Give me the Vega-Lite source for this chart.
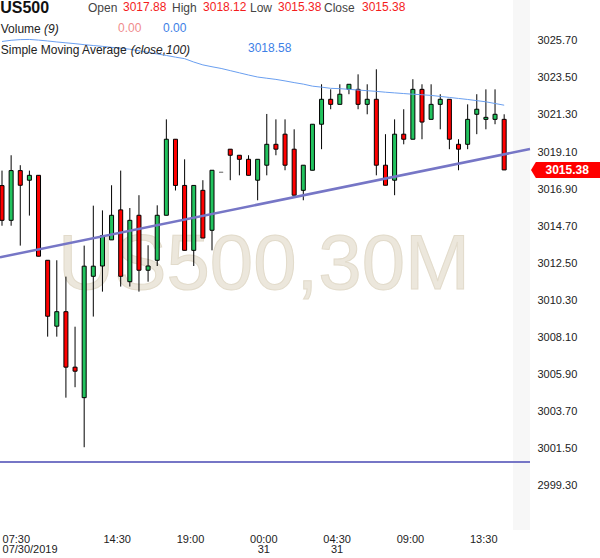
{
  "$schema": "https://vega.github.io/schema/vega-lite/v6.json",
  "width": 530,
  "height": 530,
  "autosize": {"type": "none"},
  "padding": {"left": 0, "top": 0, "right": 70, "bottom": 28},
  "background": "white",
  "config": {"view": {"stroke": null}, "font": "Liberation Sans"},
  "datasets": {
    "candles": [
      {"i":0,"o":3017.11,"h":3018.00,"l":3014.73,"c":3015.05,"sma":3025.66},
      {"i":1,"o":3015.05,"h":3018.91,"l":3014.73,"c":3018.00,"sma":3025.73},
      {"i":2,"o":3018.00,"h":3018.32,"l":3013.55,"c":3017.13,"sma":3025.77},
      {"i":3,"o":3017.43,"h":3018.00,"l":3015.33,"c":3017.72,"sma":3025.78},
      {"i":4,"o":3017.72,"h":3017.72,"l":3012.92,"c":3012.92,"sma":3025.74},
      {"i":5,"o":3012.68,"h":3012.68,"l":3008.15,"c":3009.36,"sma":3025.69},
      {"i":6,"o":3008.77,"h":3012.68,"l":3008.15,"c":3009.63,"sma":3025.63},
      {"i":7,"o":3009.63,"h":3011.71,"l":3004.53,"c":3006.34,"sma":3025.58},
      {"i":8,"o":3006.34,"h":3008.74,"l":3005.15,"c":3006.10,"sma":3025.53},
      {"i":9,"o":3004.53,"h":3013.55,"l":3001.59,"c":3012.33,"sma":3025.47},
      {"i":10,"o":3011.73,"h":3015.92,"l":3009.34,"c":3012.33,"sma":3025.42},
      {"i":11,"o":3012.34,"h":3015.64,"l":3010.82,"c":3014.14,"sma":3025.37},
      {"i":12,"o":3013.89,"h":3017.13,"l":3013.89,"c":3015.35,"sma":3025.31},
      {"i":13,"o":3015.67,"h":3018.00,"l":3011.12,"c":3011.73,"sma":3025.26},
      {"i":14,"o":3011.41,"h":3015.78,"l":3011.12,"c":3015.05,"sma":3025.20},
      {"i":15,"o":3015.35,"h":3016.54,"l":3010.82,"c":3012.09,"sma":3025.11},
      {"i":16,"o":3012.09,"h":3013.57,"l":3011.41,"c":3012.34,"sma":3025.01},
      {"i":17,"o":3012.68,"h":3015.94,"l":3012.34,"c":3015.35,"sma":3024.92},
      {"i":18,"o":3015.35,"h":3021.04,"l":3015.35,"c":3019.86,"sma":3024.83},
      {"i":19,"o":3019.86,"h":3019.86,"l":3016.82,"c":3017.12,"sma":3024.73},
      {"i":20,"o":3017.12,"h":3018.67,"l":3013.27,"c":3013.27,"sma":3024.64},
      {"i":21,"o":3013.27,"h":3017.12,"l":3012.34,"c":3017.12,"sma":3024.44},
      {"i":22,"o":3016.83,"h":3017.43,"l":3014.00,"c":3014.00,"sma":3024.27},
      {"i":23,"o":3014.46,"h":3018.02,"l":3013.27,"c":3018.02,"sma":3024.16},
      {"i":24,"o":3017.90,"h":3017.90,"l":3017.90,"c":3017.90,"sma":3024.06},
      {"i":25,"o":3019.27,"h":3019.27,"l":3017.43,"c":3018.91,"sma":3023.93},
      {"i":26,"o":3018.91,"h":3018.91,"l":3017.72,"c":3018.67,"sma":3023.80},
      {"i":27,"o":3018.67,"h":3018.91,"l":3017.72,"c":3017.72,"sma":3023.67},
      {"i":28,"o":3017.43,"h":3018.67,"l":3016.24,"c":3018.67,"sma":3023.55},
      {"i":29,"o":3018.32,"h":3021.36,"l":3017.72,"c":3019.56,"sma":3023.48},
      {"i":30,"o":3019.56,"h":3021.04,"l":3018.91,"c":3019.27,"sma":3023.41},
      {"i":31,"o":3020.16,"h":3021.04,"l":3018.02,"c":3018.32,"sma":3023.32},
      {"i":32,"o":3019.27,"h":3020.45,"l":3016.54,"c":3016.54,"sma":3023.22},
      {"i":33,"o":3016.83,"h":3018.32,"l":3016.24,"c":3018.32,"sma":3023.13},
      {"i":34,"o":3018.02,"h":3020.75,"l":3018.02,"c":3020.75,"sma":3023.01},
      {"i":35,"o":3020.75,"h":3023.12,"l":3019.27,"c":3022.23,"sma":3022.95},
      {"i":36,"o":3022.23,"h":3022.82,"l":3021.64,"c":3021.93,"sma":3022.88},
      {"i":37,"o":3021.93,"h":3023.12,"l":3021.93,"c":3022.53,"sma":3022.86},
      {"i":38,"o":3022.82,"h":3023.12,"l":3022.53,"c":3023.12,"sma":3022.82},
      {"i":39,"o":3022.82,"h":3023.71,"l":3021.64,"c":3021.93,"sma":3022.78},
      {"i":40,"o":3021.93,"h":3023.12,"l":3021.34,"c":3022.23,"sma":3022.74},
      {"i":41,"o":3022.23,"h":3024.01,"l":3017.72,"c":3018.32,"sma":3022.70},
      {"i":42,"o":3018.32,"h":3020.16,"l":3017.13,"c":3017.13,"sma":3022.65},
      {"i":43,"o":3017.43,"h":3021.04,"l":3016.54,"c":3020.16,"sma":3022.61},
      {"i":44,"o":3020.16,"h":3021.64,"l":3019.56,"c":3019.86,"sma":3022.57},
      {"i":45,"o":3019.86,"h":3023.42,"l":3019.86,"c":3022.82,"sma":3022.53},
      {"i":46,"o":3022.82,"h":3023.12,"l":3019.86,"c":3020.88,"sma":3022.50},
      {"i":47,"o":3021.04,"h":3023.12,"l":3021.04,"c":3021.93,"sma":3022.46},
      {"i":48,"o":3021.93,"h":3022.53,"l":3020.45,"c":3022.23,"sma":3022.40},
      {"i":49,"o":3022.23,"h":3022.23,"l":3019.27,"c":3019.86,"sma":3022.34},
      {"i":50,"o":3019.56,"h":3019.86,"l":3018.02,"c":3019.27,"sma":3022.28},
      {"i":51,"o":3019.56,"h":3021.93,"l":3019.27,"c":3021.04,"sma":3022.22},
      {"i":52,"o":3021.34,"h":3022.53,"l":3020.16,"c":3021.64,"sma":3022.15},
      {"i":53,"o":3021.04,"h":3022.82,"l":3020.45,"c":3021.16,"sma":3022.08},
      {"i":54,"o":3021.04,"h":3022.82,"l":3020.75,"c":3021.34,"sma":3021.98},
      {"i":55,"o":3021.04,"h":3021.34,"l":3018.04,"c":3018.04,"sma":3021.88}
    ],
    "trend": [
      {"i": -0.22, "v": 3012.86},
      {"i": 57.83, "v": 3019.28}
    ],
    "one": [{}]
  },
  "layer": [
    {
      "data": {"name": "one"},
      "mark": {"type": "rect", "fill": "#f7f7f7"},
      "encoding": {
        "x": {"datum": 55.97, "type": "quantitative", "scale": {"domain": [-0.22, 57.83], "nice": false, "zero": false, "padding": 0},
          "axis": {"values": [0, 12.56, 20.59, 28.62, 36.65, 44.68, 52.71], "title": null, "domain": false, "ticks": false,
            "labelExpr": "datum.value < 5 ? ['07:30','07/30/2019'] : datum.value < 15 ? '14:30' : datum.value < 24 ? '19:00' : datum.value < 32 ? ['00:00','31'] : datum.value < 40 ? ['04:30','31'] : datum.value < 48 ? '09:00' : '13:30'",
            "labelAlign": {"condition": {"test": "datum.value < 5", "value": "left"}, "value": "center"},
            "labelFlush": false, "labelPadding": 3, "labelFontSize": 11, "labelColor": "#222", "labelLineHeight": 10.5, "labelFont": "Liberation Sans", "gridColor": "#ececec", "labelOverlap": false}},
        "x2": {"datum": 57.83},
        "y": {"datum": 2996.68, "type": "quantitative", "scale": {"domain": [2996.68, 3028.12], "nice": false, "zero": false, "padding": 0},
          "axis": {"orient": "right", "values": [2999.3, 3001.5, 3003.7, 3005.9, 3008.1, 3010.3, 3012.5, 3014.7, 3016.9, 3019.1, 3021.3, 3023.5, 3025.7],
            "format": ".2f", "title": null, "domain": false, "ticks": false, "labelPadding": 7, "labelFontSize": 11, "labelColor": "#222", "labelFont": "Liberation Sans", "gridColor": "#ececec", "labelOverlap": false}},
        "y2": {"datum": 3028.12}
      }
    },
    {
      "data": {"name": "one"},
      "mark": {"type": "text", "text": "US500,30M", "font": "Liberation Sans", "fontSize": 78, "align": "center", "baseline": "alphabetic", "fill": "#ece7dc", "stroke": "#e2dbcb", "strokeWidth": 1},
      "encoding": {
        "x": {"datum": 28.7, "type": "quantitative"},
        "y": {"datum": 3010.98, "type": "quantitative"}
      }
    },
    {
      "data": {"name": "candles"},
      "mark": {"type": "rule", "color": "#000", "strokeWidth": 1},
      "encoding": {
        "x": {"field": "i", "type": "quantitative"},
        "y": {"field": "l", "type": "quantitative"},
        "y2": {"field": "h"}
      }
    },
    {
      "data": {"name": "candles"},
      "mark": {"type": "bar", "width": 4, "strokeWidth": 1},
      "encoding": {
        "x": {"field": "i", "type": "quantitative"},
        "y": {"field": "o", "type": "quantitative"},
        "y2": {"field": "c"},
        "fill": {"condition": {"test": "datum.c > datum.o", "value": "#22c35e"}, "value": "#ff0000"},
        "stroke": {"condition": {"test": "datum.c == datum.o", "value": "#888888"}, "value": "#000000"}
      }
    },
    {
      "data": {"name": "candles"},
      "mark": {"type": "line", "color": "#6a9ff0", "strokeWidth": 1},
      "encoding": {
        "x": {"field": "i", "type": "quantitative"},
        "y": {"field": "sma", "type": "quantitative"}
      }
    },
    {
      "data": {"name": "trend"},
      "mark": {"type": "line", "color": "#7676c6", "strokeWidth": 2.5},
      "encoding": {
        "x": {"field": "i", "type": "quantitative"},
        "y": {"field": "v", "type": "quantitative"}
      }
    },
    {
      "data": {"name": "one"},
      "mark": {"type": "rule", "color": "#7676c6", "strokeWidth": 2},
      "encoding": {
        "y": {"datum": 3000.72, "type": "quantitative"}
      }
    },
    {
      "data": {"name": "candles"},
      "transform": [{"filter": "datum.i == 55"}],
      "mark": {"type": "point", "shape": "M-1,0 L-0.86,-0.232 L1,-0.232 L1,0.232 L-0.86,0.232 Z", "size": 4761, "filled": true, "fill": "#ff0000", "stroke": null, "opacity": 1},
      "encoding": {
        "x": {"datum": 61.72, "type": "quantitative"},
        "y": {"field": "c", "type": "quantitative"}
      }
    },
    {
      "data": {"name": "candles"},
      "transform": [{"filter": "datum.i == 55"}],
      "mark": {"type": "text", "text": "3015.38", "fontSize": 12, "fontWeight": "bold", "fill": "#ffffff", "align": "center", "baseline": "middle"},
      "encoding": {
        "x": {"datum": 61.9, "type": "quantitative"},
        "y": {"field": "c", "type": "quantitative"}
      }
    },
    {
      "data": {"name": "one"},
      "mark": {"type": "text", "text": "US500", "fontSize": 16, "fontWeight": "bold", "fill": "#111", "align": "left", "baseline": "alphabetic"},
      "encoding": {"x": {"datum": -0.2, "type": "quantitative"}, "y": {"datum": 3027.36, "type": "quantitative"}}
    },
    {
      "data": {"name": "one"},
      "mark": {"type": "text", "text": "Open", "fontSize": 12, "fill": "#444", "align": "left", "baseline": "alphabetic"},
      "encoding": {"x": {"datum": 9.42, "type": "quantitative"}, "y": {"datum": 3027.38, "type": "quantitative"}}
    },
    {
      "data": {"name": "one"},
      "mark": {"type": "text", "text": "3017.88", "fontSize": 12, "fill": "#f41c1c", "align": "left", "baseline": "alphabetic"},
      "encoding": {"x": {"datum": 13.25, "type": "quantitative"}, "y": {"datum": 3027.49, "type": "quantitative"}}
    },
    {
      "data": {"name": "one"},
      "mark": {"type": "text", "text": "High", "fontSize": 12, "fill": "#444", "align": "left", "baseline": "alphabetic"},
      "encoding": {"x": {"datum": 18.62, "type": "quantitative"}, "y": {"datum": 3027.38, "type": "quantitative"}}
    },
    {
      "data": {"name": "one"},
      "mark": {"type": "text", "text": "3018.12", "fontSize": 12, "fill": "#f41c1c", "align": "left", "baseline": "alphabetic"},
      "encoding": {"x": {"datum": 22.02, "type": "quantitative"}, "y": {"datum": 3027.49, "type": "quantitative"}}
    },
    {
      "data": {"name": "one"},
      "mark": {"type": "text", "text": "Low", "fontSize": 12, "fill": "#444", "align": "left", "baseline": "alphabetic"},
      "encoding": {"x": {"datum": 27.16, "type": "quantitative"}, "y": {"datum": 3027.38, "type": "quantitative"}}
    },
    {
      "data": {"name": "one"},
      "mark": {"type": "text", "text": "3015.38", "fontSize": 12, "fill": "#f41c1c", "align": "left", "baseline": "alphabetic"},
      "encoding": {"x": {"datum": 30.23, "type": "quantitative"}, "y": {"datum": 3027.49, "type": "quantitative"}}
    },
    {
      "data": {"name": "one"},
      "mark": {"type": "text", "text": "Close", "fontSize": 12, "fill": "#444", "align": "left", "baseline": "alphabetic"},
      "encoding": {"x": {"datum": 35.27, "type": "quantitative"}, "y": {"datum": 3027.38, "type": "quantitative"}}
    },
    {
      "data": {"name": "one"},
      "mark": {"type": "text", "text": "3015.38", "fontSize": 12, "fill": "#f41c1c", "align": "left", "baseline": "alphabetic"},
      "encoding": {"x": {"datum": 39.43, "type": "quantitative"}, "y": {"datum": 3027.49, "type": "quantitative"}}
    },
    {
      "data": {"name": "one"},
      "mark": {"type": "text", "text": "Volume", "fontSize": 12, "fill": "#222", "align": "left", "baseline": "alphabetic"},
      "encoding": {"x": {"datum": -0.14, "type": "quantitative"}, "y": {"datum": 3026.16, "type": "quantitative"}}
    },
    {
      "data": {"name": "one"},
      "mark": {"type": "text", "text": "(9)", "fontSize": 12, "fontStyle": "italic", "fill": "#222", "align": "left", "baseline": "alphabetic"},
      "encoding": {"x": {"datum": 4.6, "type": "quantitative"}, "y": {"datum": 3026.16, "type": "quantitative"}}
    },
    {
      "data": {"name": "one"},
      "mark": {"type": "text", "text": "0.00", "fontSize": 12, "fill": "#f08c8c", "align": "left", "baseline": "alphabetic"},
      "encoding": {"x": {"datum": 12.7, "type": "quantitative"}, "y": {"datum": 3026.24, "type": "quantitative"}}
    },
    {
      "data": {"name": "one"},
      "mark": {"type": "text", "text": "0.00", "fontSize": 12, "fill": "#3d80e6", "align": "left", "baseline": "alphabetic"},
      "encoding": {"x": {"datum": 17.63, "type": "quantitative"}, "y": {"datum": 3026.24, "type": "quantitative"}}
    },
    {
      "data": {"name": "one"},
      "mark": {"type": "text", "text": "Simple Moving Average", "fontSize": 12, "fill": "#222", "align": "left", "baseline": "alphabetic"},
      "encoding": {"x": {"datum": -0.14, "type": "quantitative"}, "y": {"datum": 3024.92, "type": "quantitative"}}
    },
    {
      "data": {"name": "one"},
      "mark": {"type": "text", "text": "(close,100)", "fontSize": 12, "fontStyle": "italic", "fill": "#222", "align": "left", "baseline": "alphabetic"},
      "encoding": {"x": {"datum": 14.1, "type": "quantitative"}, "y": {"datum": 3024.92, "type": "quantitative"}}
    },
    {
      "data": {"name": "one"},
      "mark": {"type": "text", "text": "3018.58", "fontSize": 12, "fill": "#3d80e6", "align": "left", "baseline": "alphabetic"},
      "encoding": {"x": {"datum": 26.94, "type": "quantitative"}, "y": {"datum": 3025.05, "type": "quantitative"}}
    }
  ]
}
